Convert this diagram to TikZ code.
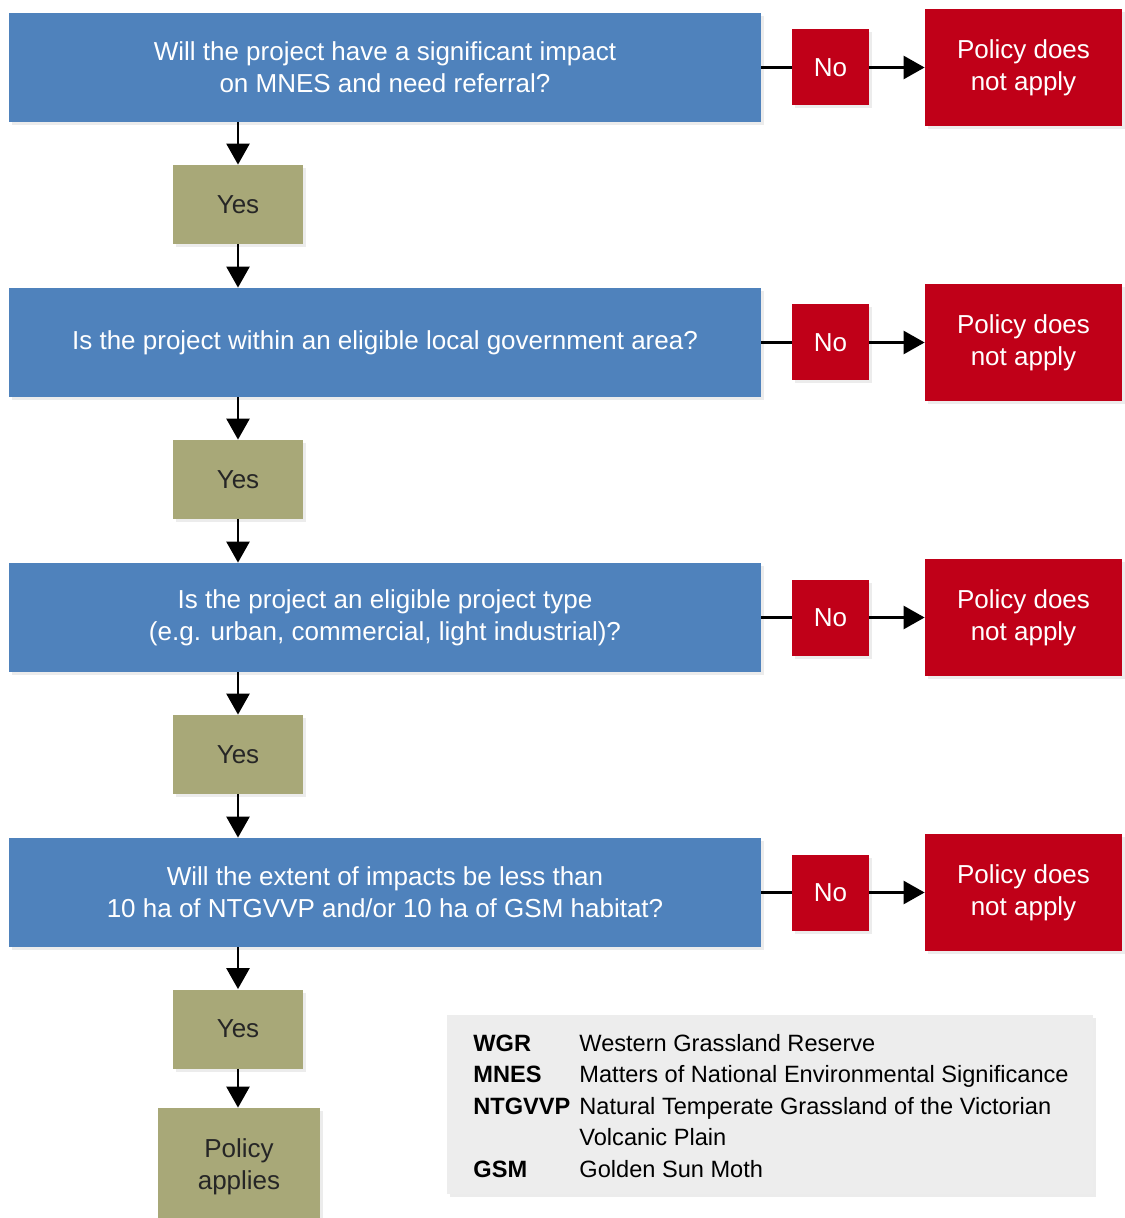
\documentclass[tikz,border=0pt]{standalone}
\usepackage{fontspec}
\setmainfont{Liberation Sans}
\usetikzlibrary{arrows.meta,shadows}

\definecolor{qblue}{HTML}{4F82BC}
\definecolor{nored}{HTML}{C00018}
\definecolor{yesolive}{HTML}{A8A878}
\definecolor{keygray}{HTML}{EDEDED}

\begin{document}
\begin{tikzpicture}[x=0.5pt, y=-0.5pt,
    shade/.style={drop shadow={shadow xshift=1.5pt, shadow yshift=-1.5pt, opacity=0.15}},
    question/.style={rectangle, fill=qblue, text=white, align=center, inner sep=0pt,
      minimum width=376pt, minimum height=54.5pt, shade,
      font=\fontsize{13}{16}\selectfont},
    yesbox/.style={rectangle, fill=yesolive, text=black!85, align=center, inner sep=0pt,
      minimum width=65pt, minimum height=39.5pt, shade,
      font=\fontsize{13}{16}\selectfont},
    nobox/.style={rectangle, fill=nored, text=white, inner sep=0pt,
      minimum width=38.5pt, minimum height=38pt, shade,
      font=\fontsize{13}{16}\selectfont},
    stopbox/.style={rectangle, fill=nored, text=white, align=center, inner sep=0pt,
      minimum width=98.5pt, minimum height=58.5pt, shade,
      font=\fontsize{13}{16}\selectfont},
    link/.style={line width=1.3pt, black},
    arr/.style={link, -{Triangle[width=11.5pt, length=10.5pt]}}]
    \useasboundingbox (0,0) rectangle (1124,1218);

    % 質問
    \node[question] (q1) at (385, 67.5) {Will the project have a significant impact\\on MNES and need referral?};
    \node[question] (q2) at (385, 342.5) {Is the project within an eligible local government area?};
    \node[question] (q3) at (385, 617.5) {Is the project an eligible project type\\(e.g. urban, commercial, light industrial)?};
    \node[question] (q4) at (385, 892.5) {Will the extent of impacts be less than\\10 ha of NTGVVP and/or 10 ha of GSM habitat?};

    % Yes
    \node[yesbox] (y1) at (238, 204.5) {Yes};
    \node[yesbox] (y2) at (238, 479.5) {Yes};
    \node[yesbox] (y3) at (238, 754.5) {Yes};
    \node[yesbox] (y4) at (238, 1029) {Yes};
    \node[yesbox, minimum width=81pt, minimum height=58.5pt] (pa) at (239, 1166.5) {Policy\\applies};

    % No
    \node[nobox] (n1) at (830.5, 67.5) {No};
    \node[nobox] (n2) at (830.5, 342.5) {No};
    \node[nobox] (n3) at (830.5, 617.5) {No};
    \node[nobox] (n4) at (830.5, 892.5) {No};
    \node[stopbox] (s1) at (1023.5, 67.5) {Policy does\\not apply};
    \node[stopbox] (s2) at (1023.5, 342.5) {Policy does\\not apply};
    \node[stopbox] (s3) at (1023.5, 617.5) {Policy does\\not apply};
    \node[stopbox] (s4) at (1023.5, 892.5) {Policy does\\not apply};

    % 凡例
    \node[rectangle, fill=keygray, minimum width=323pt, minimum height=89.5pt, shade] (key) at (770, 1104.5) {};
    \node[anchor=north west, inner sep=0pt, align=left, font=\fontsize{11.8}{15.75}\selectfont] (keytext) at (473, 1029)
      {\begin{tabular}{@{}p{53pt}@{}l@{}}
        \textbf{WGR} & Western Grassland Reserve\\
        \textbf{MNES} & Matters of National Environmental Significance\\
        \textbf{NTGVVP} & Natural Temperate Grassland of the Victorian\\
         & Volcanic Plain\\
        \textbf{GSM} & Golden Sun Moth
      \end{tabular}};

    % 矢印
    \draw[arr] (y1 |- q1.south) -- (y1.north);
    \draw[arr] (y1.south) -- (y1 |- q2.north);
    \draw[arr] (y2 |- q2.south) -- (y2.north);
    \draw[arr] (y2.south) -- (y2 |- q3.north);
    \draw[arr] (y3 |- q3.south) -- (y3.north);
    \draw[arr] (y3.south) -- (y3 |- q4.north);
    \draw[arr] (y4 |- q4.south) -- (y4.north);
    \draw[arr] (y4.south) -- (y4 |- pa.north);

    \draw[link] (q1.east) -- (n1.west);
    \draw[link] (q2.east) -- (n2.west);
    \draw[link] (q3.east) -- (n3.west);
    \draw[link] (q4.east) -- (n4.west);
    \draw[arr] (n1.east) -- (s1.west);
    \draw[arr] (n2.east) -- (s2.west);
    \draw[arr] (n3.east) -- (s3.west);
    \draw[arr] (n4.east) -- (s4.west);
  \end{tikzpicture}
\end{document}
